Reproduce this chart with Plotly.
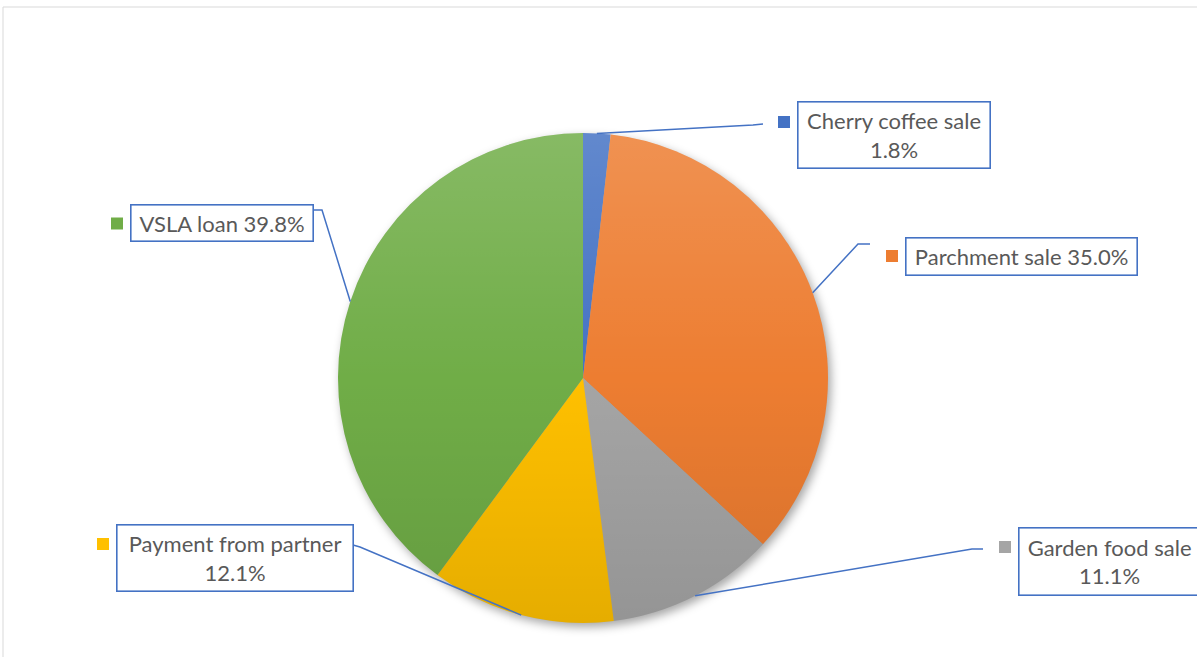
import math
import urllib.parse
import plotly.graph_objects as go

W, H = 1197, 657

# Income sources and their shares (%)
labels = ["Cherry coffee sale", "Parchment sale", "Garden food sale",
          "Payment from partner", "VSLA loan"]
values = [1.8, 35.0, 11.1, 12.1, 39.8]
colors = ["#4472C4", "#ED7D31", "#A5A5A5", "#FFC000", "#70AD47"]

# Label layout: box bounds in pixels (left, top, right, bottom), line break, connector elbows
label_boxes = [
    (797, 102, 990, 169),
    (905, 237, 1137, 275),
    (1018, 527, 1200, 595),
    (116, 524, 353, 591),
    (130, 205, 313, 242),
]
label_breaks = ["<br>", " ", "<br>", "<br>", " "]
elbows = [
    [(763, 124), (753, 125)],
    [(870, 244), (858, 244)],
    [(983, 549), (972, 549)],
    [(353, 545), (360, 547)],
    [(313, 210), (322, 210)],
]

CX, CY, R = 583, 378, 245
TEXT_COLOR = "#595959"
LINE_BLUE = "#4472C4"
FONT = "Lato"


def px(x, y):
    return x / W, 1 - y / H


fig = go.Figure()

fig.add_trace(go.Pie(
    labels=labels,
    values=values,
    sort=False,
    direction="clockwise",
    rotation=0,
    marker=dict(colors=colors, line=dict(width=0)),
    textinfo="none",
    hoverinfo="label+percent",
    showlegend=False,
    domain=dict(x=[(CX - R) / W, (CX + R) / W],
                y=[1 - (CY + R) / H, 1 - (CY - R) / H]),
))

shapes = []
annotations = []

# Chart area frame
shapes.append(dict(type="rect", xref="paper", yref="paper",
                   x0=3 / W, y0=-0.02, x1=1.02, y1=1 - 7 / H,
                   line=dict(color="#D9D9D9", width=1), fillcolor="rgba(0,0,0,0)",
                   layer="below"))

total = sum(values)
cum = 0.0
for i, (lab, val) in enumerate(zip(labels, values)):
    mid = (cum + val / 2) / total
    cum += val
    theta = 2 * math.pi * mid
    ex, ey = CX + R * math.sin(theta), CY - R * math.cos(theta)

    # connector from label to the slice edge
    pts = elbows[i] + [(ex, ey)]
    path = "M " + " L ".join(f"{px(x, y)[0]:.5f},{px(x, y)[1]:.5f}" for x, y in pts)
    shapes.append(dict(type="path", xref="paper", yref="paper", path=path,
                       line=dict(color=LINE_BLUE, width=1.5)))

    # label box
    l, t, r, b = label_boxes[i]
    pad = 4
    cxp, cyp = px((l + r) / 2, (t + b) / 2)
    annotations.append(dict(
        xref="paper", yref="paper", x=cxp, y=cyp,
        xanchor="center", yanchor="middle", showarrow=False,
        text=f"{lab}{label_breaks[i]}{val:.1f}%",
        font=dict(family=FONT, size=22, color=TEXT_COLOR),
        align="center",
        width=r - l - 2 * pad - 2, height=b - t - 2 * pad - 2,
        bordercolor=LINE_BLUE, borderwidth=1.6, borderpad=pad,
        bgcolor="white",
    ))

    # legend key square to the left of the box
    kx1 = l - 7
    kx0 = kx1 - 12
    if label_breaks[i] == "<br>":
        ky0 = t + 14
    else:
        ky0 = (t + b) / 2 - 6
    x0p, y0p = px(kx0, ky0)
    x1p, y1p = px(kx1, ky0 + 12)
    shapes.append(dict(type="rect", xref="paper", yref="paper",
                       x0=x0p, y0=y1p, x1=x1p, y1=y0p,
                       fillcolor=colors[i], line=dict(width=0)))

# Soft shading: light top to darker bottom across the pie, plus a drop shadow
grad_svg = (
    "<svg xmlns='http://www.w3.org/2000/svg' viewBox='0 0 100 100' preserveAspectRatio='none'>"
    "<defs><linearGradient id='g' x1='0' y1='0' x2='0' y2='1'>"
    "<stop offset='0' stop-color='white' stop-opacity='0.16'/>"
    "<stop offset='0.5' stop-color='white' stop-opacity='0'/>"
    "<stop offset='0.5' stop-color='black' stop-opacity='0'/>"
    "<stop offset='1' stop-color='black' stop-opacity='0.10'/>"
    "</linearGradient></defs>"
    "<circle cx='50' cy='50' r='50' fill='url(#g)'/></svg>"
)
M = 30
shadow_svg = (
    f"<svg xmlns='http://www.w3.org/2000/svg' viewBox='0 0 {2 * (R + M)} {2 * (R + M)}'>"
    "<defs><filter id='f' x='-20%' y='-20%' width='140%' height='140%'>"
    "<feGaussianBlur stdDeviation='5'/></filter></defs>"
    f"<circle cx='{R + M + 3}' cy='{R + M + 4}' r='{R}' fill='black' fill-opacity='0.35' filter='url(#f)'/></svg>"
)


def svg_uri(s):
    return "data:image/svg+xml;charset=utf-8," + urllib.parse.quote(s)


images = [
    dict(source=svg_uri(shadow_svg), xref="paper", yref="paper",
         x=(CX - R - M) / W, y=1 - (CY - R - M) / H,
         sizex=2 * (R + M) / W, sizey=2 * (R + M) / H,
         xanchor="left", yanchor="top", sizing="stretch", layer="below"),
    dict(source=svg_uri(grad_svg), xref="paper", yref="paper",
         x=(CX - R) / W, y=1 - (CY - R) / H,
         sizex=2 * R / W, sizey=2 * R / H,
         xanchor="left", yanchor="top", sizing="stretch", layer="above"),
]

fig.update_layout(
    width=W, height=H,
    margin=dict(l=0, r=0, t=0, b=0),
    paper_bgcolor="white",
    plot_bgcolor="white",
    shapes=shapes,
    annotations=annotations,
    images=images,
    showlegend=False,
)

fig.write_html("out.html")
